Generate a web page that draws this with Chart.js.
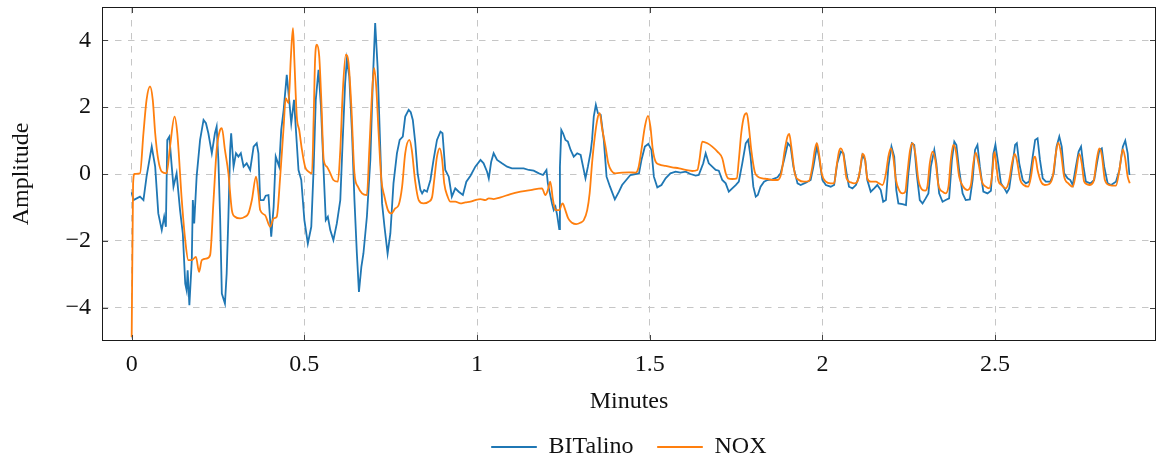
<!DOCTYPE html>
<html lang="en">
<head>
  <meta charset="UTF-8">
  <title>BITalino vs NOX</title>
  <script src="https://cdn.jsdelivr.net/npm/chart.js"></script>
  <style>
    html, body { margin:0; padding:0; background:#fff }
    .wrap { width:1156px; height:459px }
  </style>
</head>
<body>
  <div class="wrap"><canvas id="sig"></canvas></div>
  <script>
    // time in minutes, amplitude in arbitrary units
    const bitalinoT = [
      0.000,0.005,0.024,0.034,0.043,0.058,0.068,0.077,0.087,0.094,0.099,0.103,0.109,0.116,0.121,0.130,
      0.140,0.148,0.155,0.159,0.162,0.167,0.174,0.177,0.181,0.188,0.198,0.208,0.215,0.222,0.232,0.241,
      0.246,0.251,0.256,0.261,0.270,0.275,0.280,0.285,0.288,0.295,0.302,0.309,0.316,0.324,0.333,0.343,
      0.353,0.362,0.367,0.372,0.382,0.388,0.396,0.404,0.411,0.417,0.427,0.433,0.440,0.449,0.456,0.462,
      0.470,0.478,0.483,0.491,0.500,0.510,0.520,0.527,0.533,0.541,0.548,0.556,0.562,0.568,0.575,0.584,
      0.594,0.604,0.611,0.618,0.623,0.630,0.638,0.645,0.652,0.658,0.665,0.671,0.681,0.691,0.698,0.705,
      0.712,0.720,0.725,0.732,0.741,0.749,0.758,0.768,0.776,0.785,0.792,0.802,0.808,0.814,0.821,0.828,
      0.836,0.841,0.847,0.855,0.865,0.874,0.884,0.894,0.900,0.908,0.918,0.927,0.937,0.947,0.959,0.969,
      0.981,0.995,1.010,1.019,1.029,1.034,1.041,1.048,1.058,1.072,1.087,1.101,1.116,1.135,1.150,1.164,
      1.179,1.191,1.201,1.205,1.211,1.217,1.222,1.227,1.232,1.238,1.240,1.244,1.249,1.256,1.263,1.271,
      1.280,1.290,1.300,1.307,1.314,1.321,1.329,1.333,1.338,1.344,1.350,1.358,1.367,1.375,1.385,
      1.399,1.411,1.420,1.432,1.444,1.459,1.469,1.476,1.486,1.496,1.505,1.512,1.522,1.534,1.546,1.560,
      1.575,1.589,1.604,1.618,1.633,1.642,1.655,1.662,1.671,1.681,1.691,1.700,1.710,1.720,1.729,1.739,
      1.749,1.758,1.768,1.778,1.785,1.792,1.800,1.807,1.813,1.821,1.831,1.841,1.855,1.870,1.879,1.889,
      1.900,1.908,1.916,1.928,1.937,1.952,1.966,1.974,1.984,1.990,2.000,2.010,2.024,2.034,2.043,2.053,
      2.061,2.070,2.077,2.087,2.097,2.106,2.116,2.124,2.130,2.140,2.150,2.159,2.169,2.176,2.184,2.191,
      2.200,2.208,2.214,2.220,2.232,2.242,2.249,2.259,2.266,2.273,2.282,2.290,2.299,2.307,2.314,2.324,
      2.330,2.338,2.348,2.357,2.367,2.375,2.382,2.388,2.396,2.406,2.415,2.427,2.435,2.442,2.449,2.456,
      2.466,2.478,2.488,2.495,2.501,2.509,2.517,2.527,2.534,2.541,2.551,2.558,2.563,2.570,2.580,2.589,
      2.599,2.609,2.616,2.623,2.630,2.638,2.647,2.660,2.670,2.678,2.686,2.693,2.700,2.710,2.718,2.725,
      2.734,2.742,2.749,2.756,2.763,2.776,2.787,2.795,2.802,2.809,2.816,2.826,2.836,2.850,2.860,2.870,
      2.877,2.884,2.889
    ];
    const bitalinoAmp = [
      -0.55,-0.78,-0.68,-0.78,-0.08,0.82,0.22,-1.18,-1.68,-1.28,-1.58,1.02,1.12,0.22,-0.38,0.02,
      -1.08,-1.78,-3.28,-3.48,-2.88,-3.93,-2.58,-0.78,-1.48,-0.08,1.02,1.62,1.52,1.22,0.62,1.22,
      1.42,0.42,-1.28,-3.58,-3.88,-2.98,-1.28,0.72,1.22,0.22,0.62,0.52,0.62,0.22,0.32,0.12,
      0.82,0.92,0.62,-0.78,-0.78,-0.65,-0.63,-1.88,-0.98,0.52,0.22,1.32,1.92,2.97,2.22,1.52,
      2.22,0.92,0.12,-0.18,-1.38,-2.08,-1.58,0.22,2.22,3.12,2.02,0.02,-1.38,-1.28,-1.68,-1.98,
      -1.48,-0.78,1.02,2.72,3.42,2.92,1.22,-0.78,-2.38,-3.53,-2.78,-2.38,-1.28,0.42,2.72,4.52,
      3.22,0.72,-0.88,-1.58,-2.38,-1.78,-0.28,0.62,1.02,1.12,1.72,1.92,1.85,1.62,0.95,0.02,
      -0.48,-0.58,-0.48,-0.53,-0.18,0.42,1.02,1.27,1.22,0.12,-0.08,-0.68,-0.43,-0.53,-0.63,-0.23,
      -0.05,0.22,0.42,0.32,0.07,-0.13,0.37,0.62,0.42,0.32,0.22,0.17,0.17,0.17,0.12,0.10,
      0.02,-0.03,0.12,-0.28,-0.58,-0.88,-1.08,-0.98,-1.23,-1.65,0.22,1.32,1.22,1.02,0.97,0.72,
      0.52,0.62,0.57,0.22,-0.13,0.22,0.67,1.02,1.72,2.07,1.82,1.77,1.02,-0.08,-0.38,
      -0.76,-0.53,-0.33,-0.18,-0.03,0.00,0.02,0.42,0.82,0.90,0.72,-0.08,-0.40,-0.33,-0.13,0.02,
      0.07,0.04,0.07,0.00,-0.05,-0.03,0.32,0.62,0.32,0.22,0.12,0.10,-0.18,-0.28,-0.53,-0.43,
      -0.33,-0.23,0.32,0.92,1.02,0.52,-0.38,-0.68,-0.63,-0.38,-0.23,-0.18,-0.16,-0.10,0.02,0.42,
      0.92,0.82,0.22,-0.28,-0.33,-0.26,-0.18,0.22,0.82,0.52,-0.18,-0.33,-0.38,-0.33,0.32,0.67,
      0.62,0.02,-0.38,-0.43,-0.33,-0.08,0.57,0.42,-0.18,-0.53,-0.43,-0.33,-0.48,-0.83,-0.78,0.22,
      0.82,0.52,-0.48,-0.88,-0.90,-0.93,0.02,0.92,0.87,0.02,-0.78,-0.88,-0.73,-0.58,0.22,0.72,
      0.32,-0.58,-0.83,-0.78,-0.73,0.42,0.97,0.87,0.12,-0.58,-0.78,-0.76,-0.18,0.72,0.87,0.22,
      -0.53,-0.58,-0.50,0.60,0.88,0.32,-0.28,-0.43,-0.56,-0.43,0.32,0.87,0.92,0.32,-0.18,-0.28,
      -0.23,0.52,1.02,1.07,0.42,-0.13,-0.23,-0.23,0.02,0.82,1.12,0.82,0.02,-0.13,-0.18,-0.33,
      0.22,0.67,0.82,0.22,-0.23,-0.28,-0.18,0.32,0.72,0.77,0.22,-0.28,-0.33,-0.23,0.12,0.82,
      1.00,0.62,-0.03
    ];

    const noxT = [
      0.000,0.004,0.008,0.024,0.034,0.043,0.053,0.061,0.068,0.077,0.087,0.101,0.111,0.124,0.132,0.145,
      0.155,0.164,0.174,0.186,0.195,0.203,0.217,0.227,0.237,0.246,0.256,0.261,0.270,0.280,0.290,0.299,
      0.314,0.328,0.338,0.348,0.360,0.367,0.372,0.386,0.401,0.411,0.420,0.430,0.440,0.446,0.454,0.461,
      0.467,0.471,0.478,0.485,0.493,0.502,0.512,0.522,0.527,0.531,0.536,0.543,0.549,0.556,0.565,0.575,
      0.584,0.597,0.604,0.611,0.620,0.628,0.636,0.645,0.655,0.667,0.681,0.688,0.696,0.702,0.708,0.715,
      0.723,0.732,0.742,0.752,0.763,0.773,0.783,0.792,0.804,0.811,0.821,0.831,0.845,0.860,0.870,0.876,
      0.884,0.892,0.899,0.905,0.915,0.923,0.937,0.952,0.966,0.981,0.995,1.010,1.024,1.034,1.048,1.068,
      1.097,1.126,1.155,1.188,1.198,1.205,1.212,1.220,1.227,1.239,1.244,1.248,1.254,1.264,1.275,1.287,
      1.299,1.309,1.319,1.326,1.333,1.341,1.349,1.355,1.362,1.372,1.380,1.389,1.401,1.420,1.440,1.459,
      1.467,1.476,1.486,1.495,1.502,1.509,1.517,1.527,1.546,1.565,1.585,1.604,1.623,1.638,1.644,1.652,
      1.667,1.681,1.696,1.710,1.720,1.727,1.739,1.752,1.758,1.765,1.773,1.781,1.787,1.794,1.804,1.813,
      1.826,1.841,1.855,1.870,1.881,1.891,1.899,1.904,1.910,1.920,1.932,1.947,1.961,1.971,1.978,1.984,
      1.990,1.998,2.010,2.024,2.034,2.041,2.048,2.053,2.061,2.070,2.082,2.092,2.101,2.109,2.116,2.123,
      2.130,2.140,2.155,2.164,2.174,2.184,2.191,2.198,2.205,2.213,2.222,2.232,2.240,2.246,2.254,2.261,
      2.269,2.278,2.288,2.298,2.304,2.311,2.319,2.327,2.336,2.348,2.357,2.365,2.372,2.379,2.386,2.396,
      2.408,2.420,2.430,2.437,2.444,2.452,2.462,2.473,2.483,2.491,2.498,2.502,2.509,2.519,2.531,2.541,
      2.549,2.557,2.563,2.573,2.583,2.596,2.604,2.612,2.616,2.623,2.633,2.644,2.657,2.667,2.676,2.683,
      2.691,2.700,2.712,2.725,2.734,2.744,2.751,2.758,2.773,2.785,2.795,2.802,2.809,2.818,2.831,2.850,
      2.860,2.870,2.876,2.884,2.890
    ];
    const noxAmp = [
      -4.88,-0.30,0.00,0.02,1.22,2.22,2.62,2.22,1.22,0.42,0.07,0.02,0.82,1.72,1.22,-0.78,
      -1.98,-2.58,-2.58,-2.48,-2.93,-2.58,-2.53,-2.43,-0.78,0.72,1.32,1.37,0.72,0.02,-1.08,-1.28,
      -1.33,-1.28,-1.18,-0.78,-0.08,-0.58,-1.08,-1.23,-1.58,-1.33,-1.28,-0.08,1.42,2.27,2.12,3.52,
      4.37,3.42,1.72,1.32,0.72,0.22,0.07,0.02,1.72,3.42,3.87,3.52,2.22,0.42,0.22,0.02,
      -0.18,-0.23,0.72,2.42,3.57,3.32,2.02,0.02,-0.38,-0.58,-0.63,0.72,2.42,3.17,2.62,1.22,
      -0.18,-0.68,-1.08,-1.18,-1.03,-0.93,-0.38,0.62,1.02,0.72,-0.23,-0.78,-0.88,-0.83,-0.68,-0.18,
      0.52,0.77,0.42,-0.28,-0.68,-0.83,-0.83,-0.88,-0.85,-0.83,-0.78,-0.75,-0.78,-0.73,-0.75,-0.70,
      -0.60,-0.53,-0.48,-0.43,-0.63,-0.48,-0.23,-0.78,-1.08,-1.08,-0.93,-0.88,-1.03,-1.33,-1.46,-1.50,
      -1.46,-1.38,-1.08,-0.58,0.32,1.12,1.67,1.82,1.37,0.82,0.32,0.10,0.02,0.04,0.05,0.04,
      0.17,0.72,1.42,1.74,1.42,0.72,0.37,0.29,0.24,0.20,0.17,0.12,0.09,0.12,0.42,0.97,
      0.92,0.82,0.67,0.47,0.02,-0.13,-0.15,-0.13,0.42,1.22,1.72,1.82,1.42,0.72,0.07,-0.08,
      -0.13,-0.15,-0.18,-0.18,0.02,0.72,1.12,1.20,0.82,0.02,-0.18,-0.23,-0.21,0.22,0.72,0.92,
      0.62,0.02,-0.23,-0.28,-0.28,0.22,0.67,0.77,0.57,-0.13,-0.25,-0.28,-0.23,0.12,0.60,0.47,
      -0.13,-0.23,-0.23,-0.28,-0.33,0.02,0.52,0.77,0.52,-0.18,-0.48,-0.58,-0.53,0.02,0.72,0.92,
      0.62,-0.18,-0.46,-0.50,-0.38,0.32,0.67,0.42,-0.33,-0.53,-0.58,-0.38,0.42,0.87,0.72,-0.08,
      -0.38,-0.48,-0.33,0.32,0.64,0.32,-0.23,-0.38,-0.43,-0.08,0.66,0.42,-0.18,-0.33,-0.43,-0.18,
      0.32,0.60,0.42,-0.18,-0.33,-0.38,-0.08,0.47,0.52,0.12,-0.23,-0.33,-0.30,-0.08,0.62,0.94,
      0.62,-0.08,-0.28,-0.38,0.02,0.60,0.32,-0.23,-0.33,-0.23,0.47,0.77,0.57,-0.18,-0.33,-0.35,
      0.12,0.74,0.52,-0.08,-0.28
    ];

    const xTicks = [0, 0.5, 1, 1.5, 2, 2.5];
    const yTicks = [-4, -2, 0, 2, 4];

    const BLUE = '#1f77b4', ORANGE = '#ff7f0e';
    const FONT = "'Liberation Serif', 'Times New Roman', serif";
    const TICK = 6;

    Chart.defaults.font.family = FONT;
    Chart.defaults.font.size = 24;
    Chart.defaults.color = '#111';

    const pts = (t, a) => t.map((v, i) => ({x: v, y: a[i]}));
    const fmt = v => v < 0 ? '\u2212' + Math.abs(v) : String(v);

    // axis frame on all four sides plus short inward tick marks
    const framePlugin = {
      id: 'frame',
      afterLayout(chart) {
        // legend sits centred under the plot box, not the canvas
        const lg = chart.legend, a = chart.chartArea;
        if (lg) { lg.left = a.left; lg.right = a.right; }
      },
      afterDraw(chart) {
        const {ctx, chartArea: a, scales: {x, y}} = chart;
        ctx.save();
        ctx.lineWidth = 1;
        ctx.strokeStyle = '#444';
        ctx.beginPath();
        xTicks.forEach(v => {
          const px = Math.round(x.getPixelForValue(v)) + 0.5;
          ctx.moveTo(px, a.bottom); ctx.lineTo(px, a.bottom - TICK);
          ctx.moveTo(px, a.top); ctx.lineTo(px, a.top + TICK);
        });
        yTicks.forEach(v => {
          const py = Math.round(y.getPixelForValue(v)) + 0.5;
          ctx.moveTo(a.left, py); ctx.lineTo(a.left + TICK, py);
          ctx.moveTo(a.right, py); ctx.lineTo(a.right - TICK, py);
        });
        ctx.stroke();
        ctx.strokeStyle = '#1a1a1a';
        ctx.strokeRect(a.left + 0.5, a.top + 0.5, a.right - a.left - 1, a.bottom - a.top - 1);
        ctx.restore();
      }
    };

    new Chart(document.getElementById('sig'), {
      type: 'line',
      data: {
        datasets: [
          {
            label: 'NOX',
            data: pts(noxT, noxAmp),
            borderColor: ORANGE, backgroundColor: ORANGE,
            borderWidth: 1.8, pointRadius: 0,
            cubicInterpolationMode: 'monotone'
          },
          {
            label: 'BITalino',
            data: pts(bitalinoT, bitalinoAmp),
            borderColor: BLUE, backgroundColor: BLUE,
            borderWidth: 1.8, pointRadius: 0, tension: 0
          }
        ]
      },
      options: {
        responsive: true,
        maintainAspectRatio: false,
        animation: false,
        devicePixelRatio: 1,
        layout: {padding: {top: 7, right: 0, left: 0, bottom: -10}},
        scales: {
          x: {
            type: 'linear',
            min: -0.086, max: 2.966,
            afterBuildTicks: s => { s.ticks = xTicks.map(v => ({value: v})); },
            afterFit: s => { s.height = 70; s.paddingLeft = 0; s.paddingRight = 0; },
            ticks: {padding: 9, callback: v => String(v), autoSkip: false, maxRotation: 0},
            grid: {color: '#c6c6c6', lineWidth: 1, drawTicks: false},
            border: {display: false, dash: [6.5, 6.5]},
            title: {display: true, text: 'Minutes', font: {size: 24, lineHeight: 0.75}, padding: 0}
          },
          y: {
            min: -5, max: 5,
            afterBuildTicks: s => { s.ticks = yTicks.map(v => ({value: v})); },
            afterFit: s => { s.width = 102; s.paddingTop = 0; s.paddingBottom = 0; },
            ticks: {padding: 11, callback: fmt},
            grid: {color: '#c6c6c6', lineWidth: 1, drawTicks: false},
            border: {display: false, dash: [6.5, 6.5]},
            title: {display: true, text: 'Amplitude', font: {size: 24}, padding: {top: 7.6, bottom: 0}}
          }
        },
        plugins: {
          tooltip: {enabled: false},
          legend: {
            position: 'bottom',
            reverse: true,
            labels: {
              boxWidth: 45, boxHeight: 1, padding: 24,
              font: {size: 24},
              generateLabels: chart => Chart.defaults.plugins.legend.labels.generateLabels(chart)
                .map(l => Object.assign(l, {lineWidth: 1}))
            }
          }
        }
      },
      plugins: [framePlugin]
    });
  </script>
</body>
</html>
